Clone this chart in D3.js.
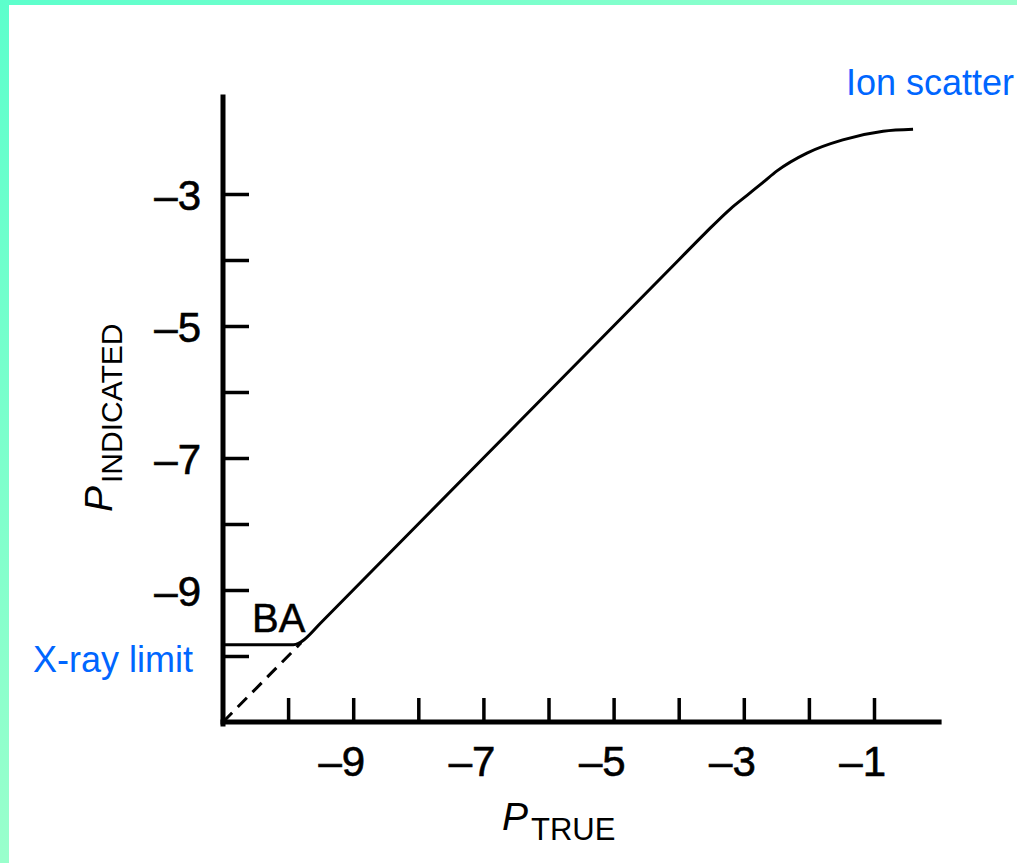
<!DOCTYPE html>
<html>

<head>
    <meta charset="UTF-8">
    <style>
        body { margin: 0; background: #fff; }
        text { font-family: "Liberation Sans", Arial, Helvetica, sans-serif; }
    </style>
</head>

<body>
    <div id="my_dataviz"></div>

    <script src="https://d3js.org/d3.v7.min.js"></script>
    <script>
        // tick values (log10 of pressure)
        var xTicks = [-10, -9, -8, -7, -6, -5, -4, -3, -2, -1];
        var xTickLabels = ["", "\u20139", "", "\u20137", "", "\u20135", "", "\u20133", "", "\u20131"];
        var yTicks = [-10, -9, -8, -7, -6, -5, -4, -3];
        var yTickLabels = ["", "\u20139", "", "\u20137", "", "\u20135", "", "\u20133"];

        // gauge response
        var pTrue = [-11, -9.92, -9.84, -9.75, -9.5, -9, -8, -7, -6, -5, -4, -3.6, -3.2, -2.95, -2.7, -2.49, -2.03, -1.48, -0.86, -0.40];
        var pIndicated = [-9.83, -9.83, -9.81, -9.75, -9.5, -9, -8, -7, -6, -5, -4, -3.6, -3.22, -3.02, -2.82, -2.65, -2.38, -2.18, -2.05, -2.02];

        // ideal response below the x-ray limit
        var idealTrue = [-11, -9.8];
        var idealIndicated = [-11, -9.8];

        var width = 1017, height = 863;

        var svg = d3.select("#my_dataviz")
            .append("svg")
            .attr("width", width)
            .attr("height", height);

        // slide frame
        var defs = svg.append("defs");
        var grad = defs.append("linearGradient")
            .attr("id", "frame")
            .attr("x1", 0).attr("y1", 0).attr("x2", 1).attr("y2", 1);
        grad.append("stop").attr("offset", 0).attr("stop-color", "#5cffcc");
        grad.append("stop").attr("offset", 0.5).attr("stop-color", "#99ffcc");
        grad.append("stop").attr("offset", 1).attr("stop-color", "#ccffcc");

        svg.append("rect")
            .attr("width", width).attr("height", height)
            .attr("fill", "url(#frame)");
        svg.append("rect")
            .attr("x", 9).attr("y", 5)
            .attr("width", width - 9).attr("height", height - 5)
            .attr("fill", "#fff");

        var x = d3.scaleLinear().domain([-11, -1]).range([223, 874]);
        var y = d3.scaleLinear().domain([-11, -2]).range([722, 128]);

        // axes
        var xAxis = svg.append("g")
            .attr("transform", "translate(0," + y(-11) + ")")
            .call(d3.axisBottom(x).tickValues(xTicks).tickSize(-24).tickFormat("").tickSizeOuter(0));
        xAxis.select(".domain").attr("d", "M" + x(-11) + ",0H" + x(0));

        var yAxis = svg.append("g")
            .attr("transform", "translate(" + x(-11) + ",0)")
            .call(d3.axisLeft(y).tickValues(yTicks).tickSize(-26).tickFormat("").tickSizeOuter(0));
        yAxis.select(".domain").attr("d", "M0," + (y(-11) + 2) + "V" + y(-1.53));

        svg.selectAll(".domain")
            .attr("stroke", "#000")
            .attr("stroke-width", 5)
            .attr("stroke-linecap", "square");
        svg.selectAll(".tick line")
            .attr("stroke", "#000")
            .attr("stroke-width", 3.5);

        // tick labels
        svg.append("g").selectAll("text")
            .data(xTicks)
            .enter().append("text")
            .attr("x", function (d) { return x(d) + 12; })
            .attr("y", 776)
            .attr("text-anchor", "end")
            .style("font-size", "42px")
            .style("stroke", "#000").style("stroke-width", 0.6)
            .text(function (d, i) { return xTickLabels[i]; });

        svg.append("g").selectAll("text")
            .data(yTicks)
            .enter().append("text")
            .attr("x", 201)
            .attr("y", function (d) { return y(d) + 16; })
            .attr("text-anchor", "end")
            .style("font-size", "42px")
            .style("stroke", "#000").style("stroke-width", 0.6)
            .text(function (d, i) { return yTickLabels[i]; });

        // axis titles
        var xt = svg.append("text")
            .attr("x", 502)
            .attr("y", 830);
        xt.append("tspan").style("font-size", "39px").style("font-style", "italic").text("P");
        xt.append("tspan").attr("dx", 3).attr("dy", 10).style("font-size", "31px").text("TRUE");

        var yt = svg.append("text")
            .attr("transform", "translate(112,512) rotate(-90)");
        yt.append("tspan").style("font-size", "39px").style("font-style", "italic").text("P");
        yt.append("tspan").attr("dx", 3).attr("dy", 10).style("font-size", "30px").text("INDICATED");

        // curves
        var line = d3.line()
            .x(function (d) { return x(d[0]); })
            .y(function (d) { return y(d[1]); })
            .curve(d3.curveMonotoneX);

        svg.append("path")
            .datum(d3.zip(pTrue, pIndicated))
            .attr("d", line)
            .attr("fill", "none")
            .attr("stroke", "#000")
            .attr("stroke-width", 3);

        svg.append("path")
            .datum(d3.zip(idealTrue, idealIndicated))
            .attr("d", d3.line().x(function (d) { return x(d[0]); }).y(function (d) { return y(d[1]); }))
            .attr("fill", "none")
            .attr("stroke", "#000")
            .attr("stroke-width", 3)
            .attr("stroke-dasharray", "13,8");

        // annotations
        svg.append("text")
            .attr("x", 252).attr("y", 632)
            .style("font-size", "40px")
            .style("stroke", "#000").style("stroke-width", 0.5)
            .text("BA");

        svg.append("text")
            .attr("x", 33).attr("y", 672)
            .attr("fill", "#0066ff")
            .style("font-size", "36px")
            .text("X-ray limit");

        svg.append("text")
            .attr("x", 846).attr("y", 95)
            .attr("fill", "#0066ff")
            .style("font-size", "36px")
            .text("Ion scatter");
    </script>
</body>

</html>
